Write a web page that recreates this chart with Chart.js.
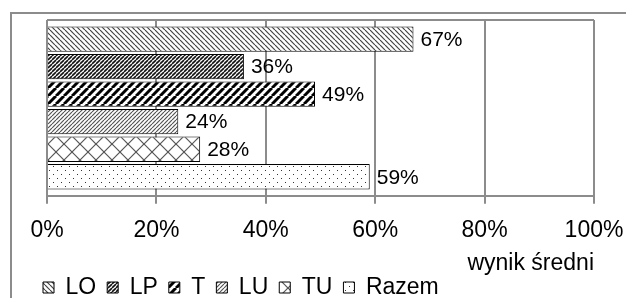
<!DOCTYPE html>
<html>
<head>
<meta charset="utf-8">
<script src="https://cdn.jsdelivr.net/npm/chart.js@4"></script>
<style>
  html, body { margin:0; padding:0; background:#fff; overflow:hidden; }
  #wrap { position:relative; width:626px; height:298px; }
  #frame { position:absolute; left:10px; top:12px; width:700px; height:400px; border:2px solid #8c8c8c; box-sizing:border-box; }
  canvas { position:absolute; left:0; top:0; }
</style>
</head>
<body>
<div id="wrap">
  <div id="frame"></div>
  <canvas id="chart" width="626" height="298"></canvas>
</div>
<script>
// dane
const serie = ['LO', 'LP', 'T', 'LU', 'TU', 'Razem'];
const wyniki = [0.67, 0.36, 0.49, 0.24, 0.28, 0.59];
const kategorie = [''];
const osTicks = [0, 0.2, 0.4, 0.6, 0.8, 1];

const FONT = 'Liberation Sans, Arial, sans-serif';

// wzory wypelnienia
function wzor(size, draw){
  const c = document.createElement('canvas');
  c.width = size; c.height = size;
  const g = c.getContext('2d');
  g.fillStyle = '#fff';
  g.fillRect(0, 0, size, size);
  draw(g, size);
  return document.getElementById('chart').getContext('2d').createPattern(c, 'repeat');
}
function ukosne(g, s, kolor, w, wPrawo){
  g.strokeStyle = kolor; g.lineWidth = w;
  for (let k = -1; k <= 1; k++){
    g.beginPath();
    if (wPrawo){ g.moveTo(k*s, s); g.lineTo(k*s + s, 0); }
    else { g.moveTo(k*s, 0); g.lineTo(k*s + s, s); }
    g.stroke();
  }
}
const wzory = [
  wzor(5, (g, s) => ukosne(g, s, '#444', 1.2, false)),
  wzor(4, (g, s) => ukosne(g, s, '#111', 1.6, true)),
  wzor(8, (g, s) => ukosne(g, s, '#000', 3, true)),
  wzor(4, (g, s) => ukosne(g, s, '#555', 1.2, true)),
  wzor(16, (g, s) => { ukosne(g, s, '#555', 1.2, true); ukosne(g, s, '#555', 1.2, false); }),
  wzor(8, (g, s) => { g.fillStyle = '#333'; g.fillRect(1, 2, 1, 1); g.fillRect(5, 6, 1, 1); })
];

const etykiety = {
  id: 'etykiety',
  afterDatasetsDraw(chart){
    const ctx = chart.ctx;
    ctx.save();
    ctx.font = '21px ' + FONT;
    ctx.fillStyle = '#000';
    ctx.textBaseline = 'middle';
    chart.data.datasets.forEach((ds, i) => {
      const el = chart.getDatasetMeta(i).data[0];
      ctx.fillText(Math.round(ds.data[0] * 100) + '%', el.x + 7, el.y + 1);
    });
    ctx.restore();
  }
};

new Chart(document.getElementById('chart'), {
  type: 'bar',
  data: {
    labels: kategorie,
    datasets: serie.map((s, i) => ({
      label: s,
      data: [wyniki[i]],
      backgroundColor: wzory[i],
      borderColor: '#000',
      borderWidth: 1,
      categoryPercentage: 0.94,
      barPercentage: 0.92
    }))
  },
  options: {
    indexAxis: 'y',
    responsive: false,
    animation: false,
    layout: { padding: { left: 32, right: 0, top: 20, bottom: -11 } },
    scales: {
      x: {
        min: 0, max: 1,
        afterBuildTicks: s => { s.ticks = osTicks.map(v => ({ value: v })); },
        afterFit: s => { s.paddingRight = 32; },
        grid: { color: '#8c8c8c', lineWidth: 2, tickLength: 8, tickColor: '#8c8c8c' },
        border: { color: '#8c8c8c', width: 2 },
        ticks: {
          color: '#000', padding: 13,
          font: { family: FONT, size: 23 },
          callback: v => Math.round(v * 100) + '%'
        },
        title: { display: true, text: 'wynik średni', align: 'end', color: '#000',
                 font: { family: FONT, size: 23 }, padding: { top: -8, bottom: -12 } }
      },
      y: {
        afterFit: s => { s.width = 15; },
        grid: { color: '#8c8c8c', lineWidth: 2, drawTicks: false },
        border: { display: false },
        ticks: { display: false }
      }
    },
    plugins: {
      legend: {
        position: 'bottom', align: 'start',
        labels: { boxWidth: 11, boxHeight: 11, padding: 11, color: '#000',
                  font: { family: FONT, size: 23 } }
      },
      tooltip: { enabled: false }
    }
  },
  plugins: [etykiety]
});
</script>
</body>
</html>
